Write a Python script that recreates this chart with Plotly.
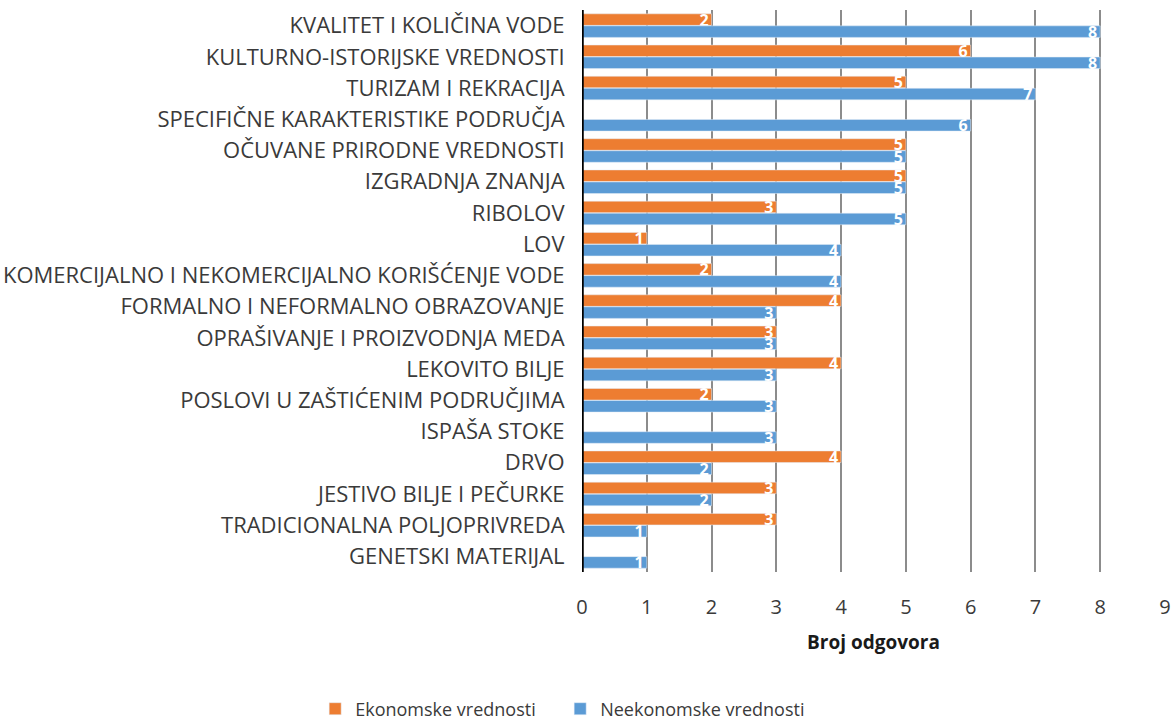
import plotly.graph_objects as go

categories = [
    "KVALITET I KOLIČINA VODE",
    "KULTURNO-ISTORIJSKE VREDNOSTI",
    "TURIZAM I REKRACIJA",
    "SPECIFIČNE KARAKTERISTIKE PODRUČJA",
    "OČUVANE PRIRODNE VREDNOSTI",
    "IZGRADNJA ZNANJA",
    "RIBOLOV",
    "LOV",
    "KOMERCIJALNO I NEKOMERCIJALNO KORIŠĆENJE VODE",
    "FORMALNO I NEFORMALNO OBRAZOVANJE",
    "OPRAŠIVANJE I PROIZVODNJA MEDA",
    "LEKOVITO BILJE",
    "POSLOVI U ZAŠTIĆENIM PODRUČJIMA",
    "ISPAŠA STOKE",
    "DRVO",
    "JESTIVO BILJE I PEČURKE",
    "TRADICIONALNA POLJOPRIVREDA",
    "GENETSKI MATERIJAL",
]
ekonomske = [2, 6, 5, None, 5, 5, 3, 1, 2, 4, 3, 4, 2, None, 4, 3, 3, None]
neekonomske = [8, 8, 7, 6, 5, 5, 5, 4, 4, 3, 3, 3, 3, 3, 2, 2, 1, 1]
x_ticks = [0, 1, 2, 3, 4, 5, 6, 7, 8, 9]

FONT = "Open Sans"
TXT = "#3a3a3a"

fig = go.Figure()
fig.add_trace(go.Bar(
    y=categories, x=ekonomske, orientation="h", name="Ekonomske vrednosti",
    marker=dict(color="#ED7D31"),
    text=[("" if v is None else str(v)) for v in ekonomske],
    textposition="inside", insidetextanchor="end", textangle=0,
    textfont=dict(color="white", size=16, family=FONT, weight="bold"),
))
fig.add_trace(go.Bar(
    y=categories, x=neekonomske, orientation="h", name="Neekonomske vrednosti",
    marker=dict(color="#5B9BD5"),
    text=[str(v) for v in neekonomske],
    textposition="inside", insidetextanchor="end", textangle=0,
    textfont=dict(color="white", size=16, family=FONT, weight="bold"),
))

fig.update_layout(
    width=1176, height=722,
    margin=dict(l=582, r=11, t=10, b=150, autoexpand=False),
    paper_bgcolor="white", plot_bgcolor="white",
    barmode="group", bargap=0.23, bargroupgap=0.04,
    font=dict(family=FONT, color=TXT),
    uniformtext=dict(mode="show", minsize=10),
    legend=dict(orientation="h", xref="container", yref="container",
                x=0.268, xanchor="left", y=0.018, yanchor="middle",
                entrywidth=200, entrywidthmode="pixels",
                font=dict(size=18, color=TXT), traceorder="normal"),
    xaxis=dict(
        range=[0, 9], tickvals=x_ticks, showgrid=True, gridcolor="#8c8c8c", gridwidth=1.5,
        zeroline=False, showline=False, automargin=False,
        ticks="outside", ticklen=17, tickcolor="rgba(0,0,0,0)",
        tickfont=dict(size=20, color=TXT),
        title=dict(text="<b>Broj odgovora</b>", font=dict(size=19, color="#1a1a1a"), standoff=16),
    ),
    yaxis=dict(
        autorange="reversed", showgrid=False, zeroline=False,
        showline=False, automargin=False,
        ticks="outside", ticklen=12, tickcolor="rgba(0,0,0,0)",
        tickfont=dict(size=22, color=TXT),
    ),
)
fig.add_vline(x=0, line=dict(color="black", width=3.5))
fig.write_html("out.html", config={"displayModeBar": False},
               post_script="document.body.style.margin='0';document.body.style.overflow='hidden';")
